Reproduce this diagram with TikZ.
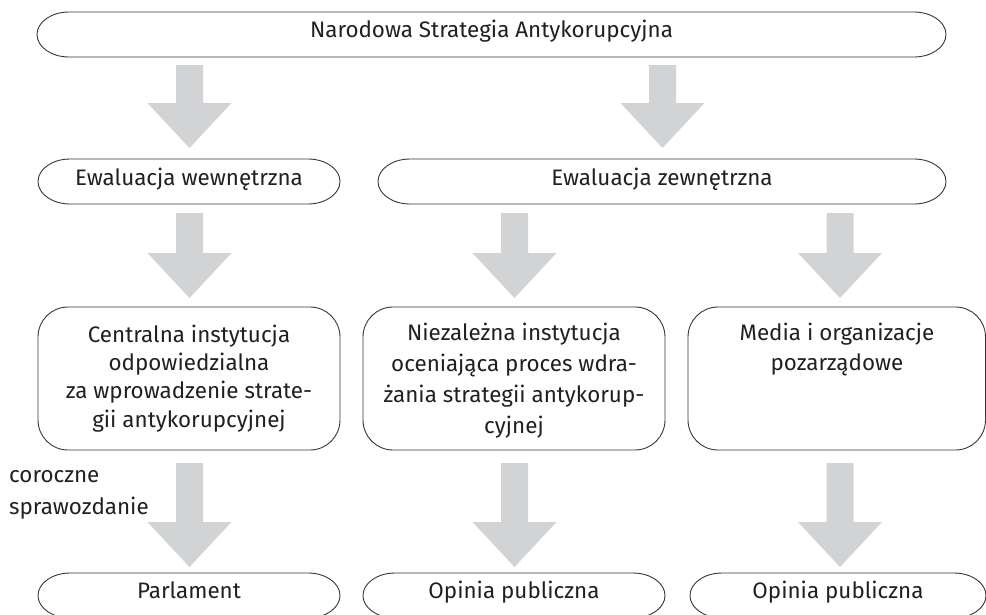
\documentclass[tikz,border=0pt]{standalone}
\usepackage{fontspec}
\setmainfont{Fira Sans}
\usetikzlibrary{calc}
\definecolor{arrowgray}{HTML}{D1D3D4}
\definecolor{ink}{HTML}{231F20}
\newcommand{\rframe}[3]{%
  \draw[frameline] ($(#1.north west)+(#2,0)$) -- ($(#1.north east)+(-#2,0)$)
   .. controls +(0.552*#2,0) and +(0,-0.552*#3) .. ($(#1.north east)+(0,#3)$)
   -- ($(#1.south east)+(0,-#3)$)
   .. controls +(0,0.552*#3) and +(0.552*#2,0) .. ($(#1.south east)+(-#2,0)$)
   -- ($(#1.south west)+(#2,0)$)
   .. controls +(-0.552*#2,0) and +(0,0.552*#3) .. ($(#1.south west)+(0,-#3)$)
   -- ($(#1.north west)+(0,#3)$)
   .. controls +(0,-0.552*#3) and +(-0.552*#2,0) .. ($(#1.north west)+(#2,0)$) -- cycle;}
\newcommand{\blockarrow}[2]{%
  \fill[arrowgray] let \p1=(#1), \p2=(#2) in
   (\x1-13.5pt,\y1) -- (\x1+13.5pt,\y1) -- (\x1+13.5pt,\y2+45pt) -- (\x1+42pt,\y2+45pt)
   -- (\x2,\y2) -- (\x1-42pt,\y2+45pt) -- (\x1-13.5pt,\y2+45pt) -- cycle;}
\begin{document}
\begin{tikzpicture}[x=1pt,y=-1pt,
  frameline/.style={draw=ink!90, line width=0.9pt},
  boxshape/.style={draw=none, inner sep=0pt, outer sep=0pt},
  lbl/.style={anchor=base, inner sep=0pt, text=ink, font=\fontsize{22.4}{27}\selectfont}]
\useasboundingbox (0,0) rectangle (986,614);
\clip (0,0) rectangle (986,614);
% boxes
\node[boxshape, minimum width=909pt, minimum height=45pt] (top) at (491.5,34.5) {};
\node[boxshape, minimum width=302pt, minimum height=45pt] (r2L) at (189,181.5) {};
\node[boxshape, minimum width=568pt, minimum height=45pt] (r2R) at (662,181.5) {};
\node[boxshape, minimum width=302pt, minimum height=143pt] (r3L) at (189,378.5) {};
\node[boxshape, minimum width=302pt, minimum height=143pt] (r3M) at (514,378.5) {};
\node[boxshape, minimum width=297.5pt, minimum height=143pt] (r3R) at (836.75,378.5) {};
\node[boxshape, minimum width=302pt, minimum height=45pt] (r4L) at (189,595.5) {};
\node[boxshape, minimum width=302pt, minimum height=45pt] (r4M) at (514,595.5) {};
\node[boxshape, minimum width=296pt, minimum height=45pt] (r4R) at (838,595.5) {};
\rframe{top}{32}{22.5}
\rframe{r2L}{32}{22.5}
\rframe{r2R}{32}{22.5}
\rframe{r3L}{30}{30}
\rframe{r3M}{30}{30}
\rframe{r3R}{30}{30}
\rframe{r4L}{32}{22.5}
\rframe{r4M}{32}{22.5}
\rframe{r4R}{32}{22.5}
% texts
\node[lbl] (ttop) at (491.5,37) {Narodowa Strategia Antykorupcyjna};
\node[lbl] (t2L) at (189,185) {Ewaluacja wewnętrzna};
\node[lbl] (t2R) at (662,185) {Ewaluacja zewnętrzna};
\node[lbl] (t3La) at (189,342) {Centralna instytucja};
\node[lbl] (t3Lb) at (189,370) {odpowiedzialna};
\node[lbl] (t3Lc) at (189,398) {za wprowadzenie strate-};
\node[lbl] (t3Ld) at (189,427) {gii antykorupcyjnej};
\node[lbl] (t3Ma) at (514,340) {Niezależna instytucja};
\node[lbl] (t3Mb) at (514,371) {oceniająca proces wdra-};
\node[lbl] (t3Mc) at (514,402) {żania strategii antykorup-};
\node[lbl] (t3Md) at (514,433) {cyjnej};
\node[lbl] (t3Ra) at (837,340) {Media i organizacje};
\node[lbl] (t3Rb) at (837,370) {pozarządowe};
\node[lbl] (t4L) at (189,598) {Parlament};
\node[lbl] (t4M) at (514,598) {Opinia publiczna};
\node[lbl] (t4R) at (838,598) {Opinia publiczna};
\node[lbl, anchor=base west] (rep1) at (9,482) {coroczne};
\node[lbl, anchor=base west] (rep2) at (9,514) {sprawozdanie};
% arrow end points
\coordinate (a1s) at (189.5,65);  \coordinate (a1e) at (189.5,148);
\coordinate (a2s) at (662.5,65);  \coordinate (a2e) at (662.5,148);
\coordinate (a3s) at (189.5,213); \coordinate (a3e) at (189.5,298);
\coordinate (a4s) at (514.5,213); \coordinate (a4e) at (514.5,298);
\coordinate (a5s) at (840,213);   \coordinate (a5e) at (840,298);
\coordinate (a6s) at (189.5,463); \coordinate (a6e) at (189.5,567);
\coordinate (a7s) at (514.5,463); \coordinate (a7e) at (514.5,567);
\coordinate (a8s) at (840,463);   \coordinate (a8e) at (840,567);
\blockarrow{a1s}{a1e}
\blockarrow{a2s}{a2e}
\blockarrow{a3s}{a3e}
\blockarrow{a4s}{a4e}
\blockarrow{a5s}{a5e}
\blockarrow{a6s}{a6e}
\blockarrow{a7s}{a7e}
\blockarrow{a8s}{a8e}
\end{tikzpicture}
\end{document}
